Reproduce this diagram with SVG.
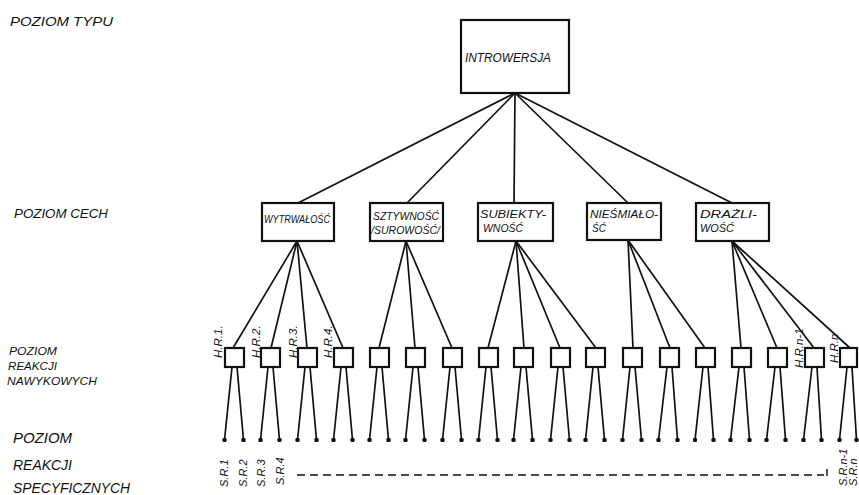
<svg xmlns="http://www.w3.org/2000/svg" width="859" height="495" viewBox="0 0 859 495">
<defs>
<style>
.bx{fill:#fff;stroke:#111;stroke-width:2.2}
.hb{fill:#fff;stroke:#111;stroke-width:2.2}
.ln{stroke:#111;stroke-width:1.7;fill:none}
.t{font-family:"Liberation Sans","DejaVu Sans",sans-serif;font-style:italic;fill:#111}
.lvl{font-size:13px}
.big{font-size:15px}
.nd{font-size:10px}
.lb{font-size:11.5px}
.sr{font-size:11px}
</style>
<marker id="dot" viewBox="0 0 6 6" refX="3" refY="3" markerWidth="4.5" markerHeight="4.5" markerUnits="userSpaceOnUse"><circle cx="3" cy="3" r="3" fill="#111"/></marker>
</defs>
<rect width="859" height="495" fill="#fff"/>

<g id="levels">
<text class="t lvl" x="10" y="26" textLength="103" lengthAdjust="spacingAndGlyphs">POZIOM  TYPU</text>
<text class="t lvl" x="14" y="218" textLength="94" lengthAdjust="spacingAndGlyphs">POZIOM CECH</text>
<text class="t" font-size="11" x="9" y="355" textLength="48" lengthAdjust="spacingAndGlyphs">POZIOM</text>
<text class="t" font-size="11" x="8" y="370" textLength="49" lengthAdjust="spacingAndGlyphs">REAKCJI</text>
<text class="t" font-size="11" x="7" y="385" textLength="90" lengthAdjust="spacingAndGlyphs">NAWYKOWYCH</text>
<text class="t big" x="13" y="443" textLength="59" lengthAdjust="spacingAndGlyphs">POZIOM</text>
<text class="t big" x="13" y="470" textLength="59" lengthAdjust="spacingAndGlyphs">REAKCJI</text>
<text class="t big" x="13" y="493" textLength="117" lengthAdjust="spacingAndGlyphs">SPECYFICZNYCH</text>
</g>

<g id="connectors">
<g class="ln">
<line x1="515" y1="93" x2="298" y2="203"/>
<line x1="515" y1="93" x2="407" y2="203"/>
<line x1="515" y1="93" x2="514" y2="203"/>
<line x1="515" y1="93" x2="628" y2="203"/>
<line x1="515" y1="93" x2="732" y2="203"/>

<line x1="297" y1="241" x2="233" y2="348"/>
<line x1="297" y1="241" x2="271" y2="348"/>
<line x1="297" y1="241" x2="307" y2="348"/>
<line x1="297" y1="241" x2="343" y2="348"/>
<line x1="406" y1="241" x2="379" y2="348"/>
<line x1="406" y1="241" x2="415" y2="348"/>
<line x1="406" y1="241" x2="452" y2="348"/>
<line x1="516" y1="241" x2="488" y2="348"/>
<line x1="516" y1="241" x2="524" y2="348"/>
<line x1="516" y1="241" x2="560" y2="348"/>
<line x1="516" y1="241" x2="596" y2="348"/>
<line x1="628" y1="240" x2="633" y2="348"/>
<line x1="628" y1="240" x2="670" y2="348"/>
<line x1="628" y1="240" x2="705" y2="348"/>
<line x1="732" y1="241" x2="741" y2="348"/>
<line x1="732" y1="241" x2="777" y2="348"/>
<line x1="732" y1="241" x2="814" y2="348"/>
<line x1="732" y1="241" x2="850" y2="348"/>
</g>
<g class="ln" marker-end="url(#dot)">
<line x1="232" y1="367" x2="224.5" y2="440"/><line x1="237" y1="367" x2="243.5" y2="440"/>
<line x1="268" y1="367" x2="260.5" y2="440"/><line x1="273" y1="367" x2="279.5" y2="440"/>
<line x1="305" y1="367" x2="297.5" y2="440"/><line x1="310" y1="367" x2="316.5" y2="440"/>
<line x1="341" y1="367" x2="333.5" y2="440"/><line x1="346" y1="367" x2="352.5" y2="440"/>
<line x1="377" y1="367" x2="369.5" y2="440"/><line x1="382" y1="367" x2="388.5" y2="440"/>
<line x1="413" y1="367" x2="405.5" y2="440"/><line x1="418" y1="367" x2="424.5" y2="440"/>
<line x1="450" y1="367" x2="442.5" y2="440"/><line x1="455" y1="367" x2="461.5" y2="440"/>
<line x1="486" y1="367" x2="478.5" y2="440"/><line x1="491" y1="367" x2="497.5" y2="440"/>
<line x1="521" y1="367" x2="513.5" y2="440"/><line x1="526" y1="367" x2="532.5" y2="440"/>
<line x1="558" y1="367" x2="550.5" y2="440"/><line x1="563" y1="367" x2="569.5" y2="440"/>
<line x1="593" y1="367" x2="585.5" y2="440"/><line x1="598" y1="367" x2="604.5" y2="440"/>
<line x1="630" y1="367" x2="622.5" y2="440"/><line x1="635" y1="367" x2="641.5" y2="440"/>
<line x1="667" y1="367" x2="658.5" y2="440"/><line x1="672" y1="367" x2="677.5" y2="440"/>
<line x1="703" y1="367" x2="695" y2="440"/><line x1="708" y1="367" x2="713.5" y2="440"/>
<line x1="739" y1="367" x2="730.5" y2="440"/><line x1="744" y1="367" x2="749.5" y2="440"/>
<line x1="775" y1="367" x2="766.5" y2="440"/><line x1="780" y1="367" x2="785.5" y2="440"/>
<line x1="812" y1="367" x2="803.5" y2="440"/><line x1="817" y1="367" x2="821.5" y2="440"/>
<line x1="847" y1="367" x2="839.5" y2="440"/><line x1="852" y1="367" x2="856.5" y2="440"/>
</g>
<line x1="297" y1="475" x2="824" y2="475" stroke="#111" stroke-width="1.7" stroke-dasharray="8,5"/>
<line x1="827" y1="469" x2="827" y2="476" stroke="#111" stroke-width="1.4"/>
</g>

<g id="n-introwersja">
<rect class="bx" x="461" y="20" width="108" height="73"/>
<text class="t" font-size="12.5" x="465" y="62" textLength="86" lengthAdjust="spacingAndGlyphs">INTROWERSJA</text>
</g>

<g id="n-wytrwalosc">
<rect class="bx" x="262" y="203" width="72" height="38"/>
<text class="t nd" x="264" y="223" textLength="66" lengthAdjust="spacingAndGlyphs">WYTRWAŁOŚĆ</text>
</g>
<g id="n-sztywnosc">
<rect class="bx" x="370" y="203" width="73" height="38"/>
<text class="t nd" x="373" y="220" textLength="66" lengthAdjust="spacingAndGlyphs">SZTYWNOŚĆ</text>
<text class="t nd" x="371" y="234" textLength="69" lengthAdjust="spacingAndGlyphs">/SUROWOŚĆ/</text>
</g>
<g id="n-subiektywnosc">
<rect class="bx" x="478" y="203" width="75" height="38"/>
<text class="t nd" x="480" y="218" textLength="66" lengthAdjust="spacingAndGlyphs">SUBIEKTY-</text>
<text class="t nd" x="483" y="232" textLength="40" lengthAdjust="spacingAndGlyphs">WNOŚĆ</text>
</g>
<g id="n-niesmialosc">
<rect class="bx" x="587" y="203" width="74" height="37"/>
<text class="t nd" x="590" y="218" textLength="68" lengthAdjust="spacingAndGlyphs">NIEŚMIAŁO-</text>
<text class="t nd" x="592" y="232">ŚĆ</text>
</g>
<g id="n-drazliwosc">
<rect class="bx" x="696" y="203" width="73" height="38"/>
<text class="t nd" x="700" y="218" textLength="57" lengthAdjust="spacingAndGlyphs">DRAŻLI-</text>
<text class="t nd" x="700" y="232" textLength="34" lengthAdjust="spacingAndGlyphs">WOŚĆ</text>
</g>

<g id="habits">
<g id="h1"><rect class="hb" x="225" y="348" width="19" height="19"/><text class="t lb" transform="translate(222,358) rotate(-90)">H.R.1.</text></g>
<g id="h2"><rect class="hb" x="261" y="348" width="19" height="19"/><text class="t lb" transform="translate(260,358) rotate(-90)">H.R.2.</text></g>
<g id="h3"><rect class="hb" x="298" y="348" width="19" height="19"/><text class="t lb" transform="translate(297,358) rotate(-90)">H.R.3.</text></g>
<g id="h4"><rect class="hb" x="334" y="348" width="19" height="19"/><text class="t lb" transform="translate(332,358) rotate(-90)">H.R.4.</text></g>
<g id="h5"><rect class="hb" x="370" y="348" width="19" height="19"/></g>
<g id="h6"><rect class="hb" x="406" y="348" width="19" height="19"/></g>
<g id="h7"><rect class="hb" x="443" y="348" width="19" height="19"/></g>
<g id="h8"><rect class="hb" x="479" y="348" width="19" height="19"/></g>
<g id="h9"><rect class="hb" x="514" y="348" width="19" height="19"/></g>
<g id="h10"><rect class="hb" x="551" y="348" width="19" height="19"/></g>
<g id="h11"><rect class="hb" x="586" y="348" width="19" height="19"/></g>
<g id="h12"><rect class="hb" x="623" y="348" width="19" height="19"/></g>
<g id="h13"><rect class="hb" x="660" y="348" width="19" height="19"/></g>
<g id="h14"><rect class="hb" x="696" y="348" width="19" height="19"/></g>
<g id="h15"><rect class="hb" x="732" y="348" width="19" height="19"/></g>
<g id="h16"><rect class="hb" x="768" y="348" width="19" height="19"/></g>
<g id="h17"><rect class="hb" x="805" y="348" width="19" height="19"/><text class="t lb" transform="translate(803,368) rotate(-90)">H.R.n-1</text></g>
<g id="h18"><rect class="hb" x="840" y="348" width="17" height="19"/><text class="t lb" transform="translate(838,363) rotate(-90)">H.R.n</text></g>
</g>

<g id="specific">
<text class="t sr" transform="translate(228,487) rotate(-90)">S.R.1</text>
<text class="t sr" transform="translate(247,487) rotate(-90)">S.R.2</text>
<text class="t sr" transform="translate(265,487) rotate(-90)">S.R.3</text>
<text class="t sr" transform="translate(284,485) rotate(-90)">S.R.4</text>
<text class="t sr" transform="translate(847,486) rotate(-90)">S.R.n-1</text>
<text class="t sr" transform="translate(857,486) rotate(-90)">S.R.n</text>
</g>
</svg>
